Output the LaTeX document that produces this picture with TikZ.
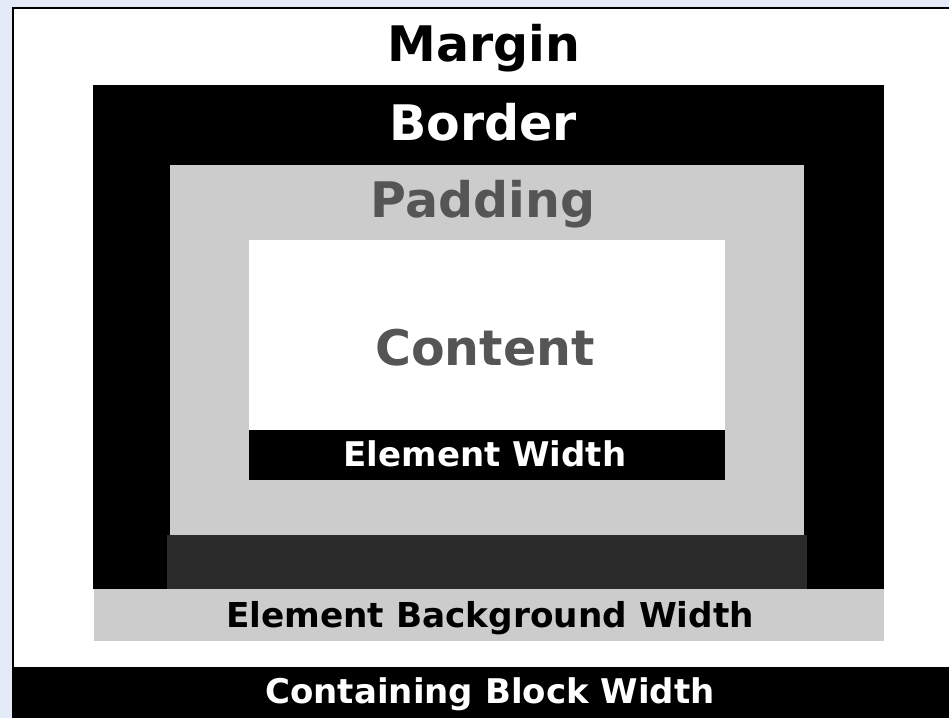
\documentclass[tikz,border=0pt]{standalone}
\usepackage{fontspec}
\setmainfont{DejaVu Sans}
\definecolor{bgblue}{HTML}{E4EBF6}
\definecolor{ltgrey}{HTML}{CCCCCC}
\definecolor{dkgrey}{HTML}{2A2A2A}
\definecolor{txtgrey}{HTML}{555555}
\begin{document}
\begin{tikzpicture}[x=1pt,y=-1pt,
  biglbl/.style={anchor=base, inner sep=0pt, font=\bfseries\fontsize{49}{55}\selectfont},
  smalllbl/.style={anchor=base, inner sep=0pt, font=\bfseries\fontsize{34}{40}\selectfont}]
\useasboundingbox (0,0) rectangle (949,718);
\fill[bgblue] (0,0) rectangle (949,718);
% margin area
\fill[black] (12,7) rectangle (949,667);
\fill[white] (14,9) rectangle (949,667);
% containing block bar
\fill[black] (12,667) rectangle (949,718);
% element background bar
\fill[ltgrey] (94,589) rectangle (884,641);
% border
\fill[black] (93,85) rectangle (884,589);
\fill[dkgrey] (167,535) rectangle (807,589);
% padding
\fill[ltgrey] (170,165) rectangle (804,535);
% content
\fill[white] (249,240) rectangle (725,430);
\fill[black] (249,430) rectangle (725,480);
% labels
\node[biglbl, text=black] (margin) at (484,61) {Margin};
\node[biglbl, text=white] (border) at (483,140) {Border};
\node[biglbl, text=txtgrey] (padding) at (483,217) {Padding};
\node[biglbl, text=txtgrey] (content) at (485,365) {Content};
\node[smalllbl, text=white] (elemw) at (485,466) {Element Width};
\node[smalllbl, text=black, font=\bfseries\fontsize{34.3}{40}\selectfont] (elembg) at (490,627) {Element Background Width};
\node[smalllbl, text=white] (contw) at (490,703) {Containing Block Width};
\end{tikzpicture}
\end{document}
